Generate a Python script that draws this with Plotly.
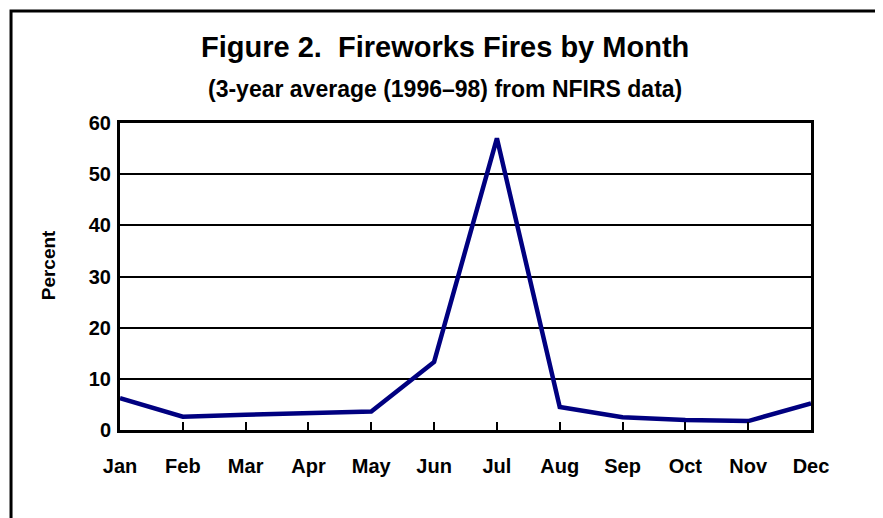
import plotly.graph_objects as go

months = ["Jan", "Feb", "Mar", "Apr", "May", "Jun", "Jul", "Aug", "Sep", "Oct", "Nov", "Dec"]
percent = [6.2, 2.6, 3.0, 3.3, 3.6, 13.3, 57.0, 4.5, 2.5, 1.95, 1.75, 5.2]
y_ticks = [0, 10, 20, 30, 40, 50, 60]

title_text = "Figure 2.\u00a0 Fireworks Fires by Month"
subtitle_text = "(3-year average (1996\u201398) from NFIRS data)"
y_title = "Percent"

FONT = "Liberation Sans, Arial, sans-serif"

fig = go.Figure()
fig.add_trace(go.Scatter(
    x=months, y=percent, mode="lines",
    line=dict(color="#000080", width=4.5),
    hoverinfo="x+y", showlegend=False,
))

fig.update_layout(
    width=883, height=518,
    margin=dict(l=112, r=80, t=115, b=96),
    paper_bgcolor="white", plot_bgcolor="white",
    font=dict(family=FONT, color="black"),
    xaxis=dict(
        type="category", range=[0, 11],
        showline=True, linecolor="black", linewidth=3, mirror=True,
        ticks="inside", ticklen=8, tickwidth=2, tickcolor="black",
        showgrid=False, zeroline=False,
        tickfont=dict(family=FONT, size=20, weight="bold", color="black"),
        ticklabelstandoff=16,
    ),
    yaxis=dict(
        range=[0, 60], tickvals=y_ticks,
        showline=True, linecolor="black", linewidth=3, mirror=True,
        ticks="", showgrid=True, gridcolor="black", gridwidth=1.6,
        zeroline=False,
        tickfont=dict(family=FONT, size=20, weight="bold", color="black"),
        ticklabelstandoff=2,
    ),
    annotations=[
        dict(text=title_text, x=0.4703, y=1.246, xref="paper", yref="paper",
             xanchor="center", yanchor="middle", showarrow=False,
             font=dict(family=FONT, size=29, weight="bold", color="black")),
        dict(text=subtitle_text, x=0.4703, y=1.111, xref="paper", yref="paper",
             xanchor="center", yanchor="middle", showarrow=False,
             font=dict(family=FONT, size=23, weight="bold", color="black")),
        dict(text=y_title, x=-0.104, y=0.537, xref="paper", yref="paper",
             xanchor="center", yanchor="middle", showarrow=False, textangle=-90,
             font=dict(family=FONT, size=19, weight="bold", color="black")),
    ],
    shapes=[
        dict(type="rect", xref="paper", yref="paper",
             x0=-0.1577, x1=1.3, y0=-0.6, y1=1.365,
             line=dict(color="black", width=3), fillcolor="rgba(0,0,0,0)",
             layer="below"),
    ],
)

fig.write_html("out.html")
